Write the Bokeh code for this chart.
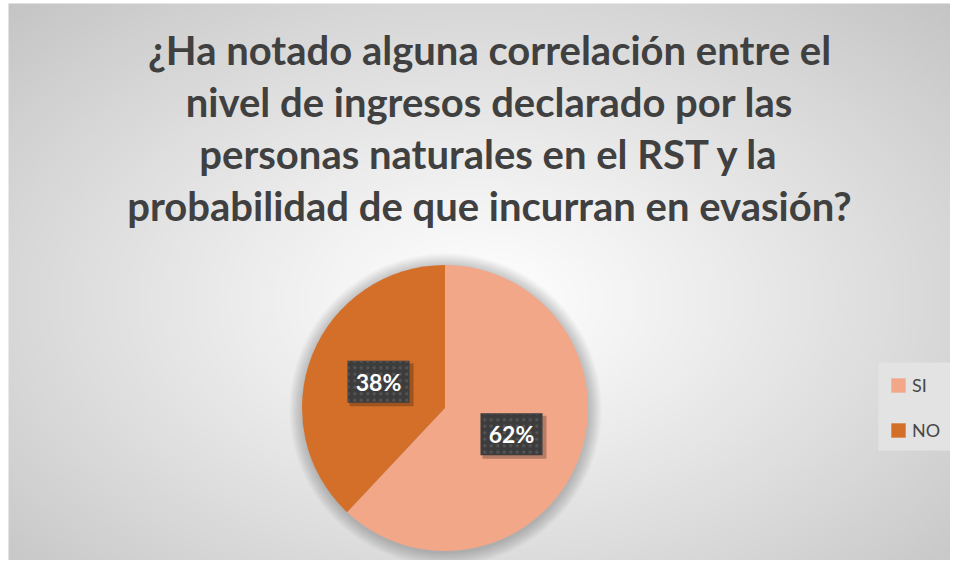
import numpy as np
from bokeh.plotting import figure
from bokeh.models import Range1d, ColumnDataSource, Legend, LegendItem
from bokeh.core.properties import value
from bokeh.embed import file_html
from bokeh.resources import INLINE

# ---- data ----
categories = ["SI", "NO"]
values = [62, 38]
colors = ["#F2A788", "#D46F2A"]
title_lines = [
    "¿Ha notado alguna correlación entre el",
    "nivel de ingresos declarado por las",
    "personas naturales en el RST y la",
    "probabilidad de que incurran en evasión?",
]

W, H = 950, 560
# data coordinates: x = page px, y = H - page py
def Y(py):
    return H - py

p = figure(width=W, height=H, output_backend="svg", toolbar_location=None,
           x_range=Range1d(0, W), y_range=Range1d(0, H),
           min_border=0, outline_line_color=None,
           background_fill_color="#ffffff", border_fill_color="#ffffff")
p.axis.visible = False
p.grid.visible = False

# background radial gradient (chart area)
bx0, by_top = 8, 3
nx, ny = 238, 140
gx = np.linspace(bx0, W, nx)
gy = np.linspace(0, Y(by_top), ny)
XX, YY = np.meshgrid(gx, gy)
cx, cy = 480.0, Y(300.0)
t = np.sqrt(((XX - cx) / 480.0) ** 2 + ((YY - cy) / 300.0) ** 2) / np.sqrt(2)
t = np.clip(t, 0, 1) ** 1.1
g = (255 - (255 - 196) * t).astype(np.uint32)
img = (255 << 24) | (g << 16) | (g << 8) | g
p.image_rgba(image=[img.view(np.uint32)], x=bx0, y=0, dw=W - bx0, dh=Y(by_top))

# pie geometry
pcx, pcy, r = 444.5, Y(407.5), 143.0
total = float(sum(values))
fr = np.array(values) / total
ends = np.pi / 2 - 2 * np.pi * np.cumsum(fr)
starts = np.concatenate([[np.pi / 2], ends[:-1]])
mids = (starts + ends) / 2

# soft shadow around pie
for k in range(1, 12):
    p.circle(x=pcx + 0.5, y=pcy - 1.5, radius=r + k * 1.2, fill_color="#000000",
             fill_alpha=0.02, line_color=None)

src = ColumnDataSource(dict(cat=categories, val=values, color=colors,
                            start=starts, end=ends))
wr = p.wedge(x=pcx, y=pcy, radius=r, start_angle="start", end_angle="end",
             direction="clock", fill_color="color", line_color=None, source=src)

# data labels
lx = pcx + 0.5 * r * np.cos(mids)
ly = pcy + 0.5 * r * np.sin(mids)
lab = ColumnDataSource(dict(x=lx, y=ly, sx=lx + 3, sy=ly - 3,
                            text=[f"{v}%" for v in values]))
p.rect(x="sx", y="sy", width=64, height=43, fill_color="#000000", fill_alpha=0.25,
       line_color=None, source=lab)
p.rect(x="x", y="y", width=62, height=42, fill_color="#3c3c3c", line_color=None,
       hatch_pattern="dot", hatch_color="#565656", hatch_scale=6.5, hatch_weight=1.2,
       source=lab)
p.text(x="x", y="y", text="text", text_align="center", text_baseline="middle",
       text_font=value("Lato"), text_font_style="bold", text_font_size="23px",
       text_color="#ffffff", source=lab)

# title
tsrc = ColumnDataSource(dict(x=[489] * 4, y=[Y(49 + 52 * i) for i in range(4)],
                             text=title_lines))
p.text(x="x", y="y", text="text", text_align="center", text_baseline="middle",
       text_font=value("Lato"), text_font_style="bold", text_font_size="40px",
       text_color="#404040", source=tsrc)

# legend box background
p.quad(left=878, right=W, bottom=Y(450), top=Y(362), fill_color="#e3e3e3",
       line_color=None)

# legend
legend = Legend(items=[LegendItem(label=c, renderers=[wr], index=i)
                       for i, c in enumerate(categories)],
                location=(889, H - 441), orientation="vertical",
                glyph_width=18, glyph_height=18, label_height=16, label_width=28,
                label_text_font="Lato", label_text_font_size="18px",
                label_text_color="#474747", label_standoff=5,
                spacing=23, padding=0, margin=0,
                background_fill_alpha=0.0, border_line_color=None)
p.add_layout(legend, "center")

open("out.html", "w").write(file_html(p, INLINE))
